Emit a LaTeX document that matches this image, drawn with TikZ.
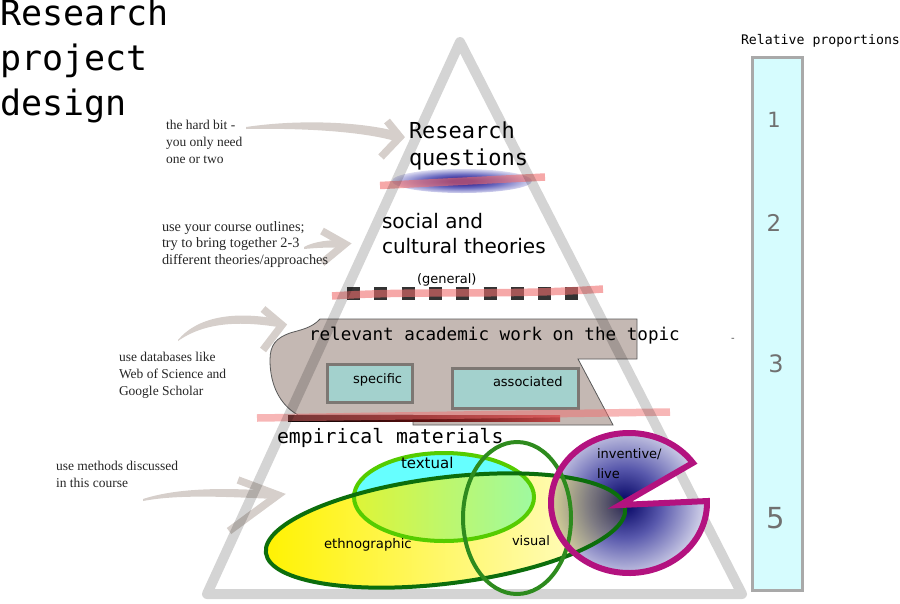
\documentclass[tikz,border=0pt]{standalone}
\usepackage{fontspec}
\setmainfont{Liberation Serif}
\setsansfont{DejaVu Sans}
\setmonofont{DejaVu Sans Mono}
\usetikzlibrary{fadings}
\definecolor{bandpink}{HTML}{F06E6E}
\definecolor{shapebrown}{HTML}{C4B8B3}
\definecolor{boxfill}{HTML}{A3D1CD}
\definecolor{boxedge}{HTML}{7D7773}
\definecolor{colfill}{HTML}{D6FCFE}
\definecolor{coledge}{HTML}{A9A9A9}
\definecolor{arrowcol}{HTML}{D6CFCB}
\definecolor{textcyan}{HTML}{66FFFF}
\definecolor{ethedge}{HTML}{0C6E0C}
\definecolor{txtedge}{HTML}{55CC00}
\definecolor{visedge}{HTML}{2E8B1E}
\definecolor{pacedge}{HTML}{B3127F}
\definecolor{pacin}{HTML}{10106E}
\definecolor{pacmid}{HTML}{5858AC}
\definecolor{paclight}{HTML}{C8C8E4}
\definecolor{pacout}{HTML}{F4F4FA}
\definecolor{glowin}{HTML}{2A1A8A}
\definecolor{glowmid}{HTML}{6A6AC0}
\definecolor{glowlight}{HTML}{D8D8F0}
\definecolor{barred}{HTML}{C04848}
\definecolor{bardark}{HTML}{5A0E0E}
\definecolor{numgray}{HTML}{707070}
\pgfdeclareradialshading{glowshade}{\pgfpoint{0bp}{0bp}}{color(0bp)=(glowin); color(4bp)=(glowin); color(14bp)=(glowmid); color(25bp)=(glowlight); color(34bp)=(white); color(50bp)=(white)}
\pgfdeclareradialshading{pacshade}{\pgfpoint{0bp}{0bp}}{color(0bp)=(pacin); color(2bp)=(pacin); color(11bp)=(pacmid); color(23bp)=(paclight); color(35bp)=(pacout); color(50bp)=(pacout)}
\tikzfading[name=ethfade, left color=transparent!0, right color=transparent!85]
\begin{document}
\begin{tikzpicture}[x=1pt,y=1pt,
  every node/.style={inner sep=0pt,outer sep=0pt},
  note/.style={font=\fontsize{13.5}{16.6}\selectfont\rmfamily, align=left, anchor=base west, text=black!85},
  monolabel/.style={font=\ttfamily, anchor=base west, align=left},
  sanslabel/.style={font=\sffamily, anchor=base west, align=left},
  numlabel/.style={font=\sffamily, text=numgray, anchor=base},
  brush/.style={fill=arrowcol},
  brushhead/.style={draw=arrowcol, line width=7.5, miter limit=10},
  band/.style={draw=bandpink, line width=7.5, draw opacity=0.6},
  sqline/.style={draw=black!80, line width=13, dash pattern=on 13 off 14.3},
  brownshape/.style={fill=shapebrown, draw=black!65, line width=0.8},
  boxstyle/.style={fill=boxfill, draw=boxedge, line width=3},
  colstyle/.style={fill=colfill, draw=coledge, line width=3},
  tri/.style={draw=black, draw opacity=0.17, line width=10, line join=round}
]
\useasboundingbox (0,0) rectangle (900,-603);

% proportions column
\draw[colstyle] (752,-57) rectangle (802,-590);

% brush arrows (tapered bodies, chevron heads)
\fill[brush] (246,-127) .. controls (300,-119) and (360,-122) .. (395,-131) -- (395,-141) .. controls (360,-131) and (300,-128) .. (246,-129) -- cycle;
\draw[brushhead] (387,-121) -- (400,-137) -- (381,-157);
\fill[brush] (304,-247) .. controls (315,-241) and (330,-240) .. (342,-240) -- (342,-248) .. controls (330,-247) and (315,-248) .. (304,-249) -- cycle;
\draw[brushhead] (322,-231) -- (345,-244) -- (322,-263);
\fill[brush] (178,-340) .. controls (200,-314) and (240,-312) .. (278,-319) -- (278,-327) .. controls (240,-321) and (205,-322) .. (178,-341) -- cycle;
\draw[brushhead] (263,-309) -- (282,-325) -- (263,-350);
\fill[brush] (143,-499) .. controls (180,-487) and (230,-488) .. (275,-491) -- (275,-499) .. controls (230,-497) and (180,-494) .. (143,-501) -- cycle;
\draw[brushhead] (238,-480) -- (278,-495) -- (229,-531);

% research questions glow and band
\shade[shading=glowshade] (462,-181) ellipse (70 and 12);
\draw[band] (380,-185.5) -- (545,-177);

% general dashed line and band
\draw[sqline] (347,-293.5) -- (578,-293.5);
\draw[band] (332,-296) .. controls (420,-290) and (500,-296) .. (603,-289);

% academic work shape
\draw[brownshape] (320,-319) -- (637,-319) -- (637,-359) -- (578,-359) -- (613,-425) -- (413,-425) -- (413,-415) -- (298,-415)
  .. controls (280,-405) and (270,-385) .. (270,-360)
  .. controls (270,-345) and (276,-338) .. (290,-333)
  .. controls (300,-330) and (312,-328) .. (320,-319) -- cycle;
\draw[boxstyle] (327,-364) rectangle (412,-402);
\draw[boxstyle] (452,-368) rectangle (578,-408);
\shade[left color=black, right color=barred, middle color=bardark] (288,-415) rectangle (560,-421);
\draw[band, draw opacity=0.5] (257,-418) -- (670,-412);

% triangle
\draw[tri] (460,-42) -- (742,-594) -- (207,-594) -- cycle;

% Venn diagram
\fill[textcyan] (444,-497) ellipse (90 and 44);
\shade[shading=pacshade] (620,-505) -- (692.9,-462.85) arc[start angle=35, end angle=361.6, x radius=78, y radius=70] -- cycle;
\fill[yellow, path fading=ethfade, rotate around={7.1:(445.5,-530.5)}] (445.5,-530.5) ellipse (181 and 53);
\draw[txtedge, line width=4] (444,-497) ellipse (90 and 44);
\draw[ethedge, line width=4, rotate around={7.1:(445.5,-530.5)}] (445.5,-530.5) ellipse (181 and 53);
\draw[visedge, line width=4] (517,-518) ellipse (54 and 76);
\draw[pacedge, line width=6, line join=miter] (620,-505) -- (692.9,-462.85) arc[start angle=35, end angle=361.6, x radius=78, y radius=70] -- cycle;

% texts (base anchor = baseline of last line)
\node[monolabel, font=\fontsize{35}{45}\selectfont\ttfamily] (title) at (0,-115) {Research\\project\\design};
\node[note] (n1) at (166,-163) {the hard bit -\\you only need\\one or two};
\node[note, font=\fontsize{14.3}{16.3}\selectfont\rmfamily] (n2) at (162,-264) {use your course outlines;\\try to bring together 2-3\\different theories/approaches};
\node[note] (n3) at (119,-395) {use databases like\\Web of Science and\\Google Scholar};
\node[note] (n4) at (56,-487) {use methods discussed\\in this course};

\node[monolabel, font=\fontsize{22}{27}\selectfont\ttfamily] (rq) at (409,-165) {Research\\questions};
\node[sanslabel, font=\fontsize{20}{25}\selectfont\sffamily] (theo) at (382,-253) {social and\\cultural theories};
\node[sanslabel, font=\fontsize{13}{16}\selectfont\sffamily] (gen) at (417,-283) {(general)};
\node[monolabel, font=\fontsize{17.6}{20}\selectfont\ttfamily] (acad) at (309,-340) {relevant academic work on the topic};
\node[sanslabel, font=\fontsize{13}{16}\selectfont\sffamily] (spec) at (353,-383) {specific};
\node[sanslabel, font=\fontsize{13}{16}\selectfont\sffamily] (assoc) at (493,-386) {associated};
\node[monolabel, font=\fontsize{19.8}{24}\selectfont\ttfamily] (emp) at (277,-443) {empirical materials};
\node[sanslabel, font=\fontsize{15}{18}\selectfont\sffamily] (txt) at (401,-468) {textual};
\node[sanslabel, font=\fontsize{13.2}{16}\selectfont\sffamily] (eth) at (324,-548) {ethnographic};
\node[sanslabel, font=\fontsize{13}{16}\selectfont\sffamily] (vis) at (512,-545) {visual};
\node[sanslabel, font=\fontsize{13}{20}\selectfont\sffamily] (inv) at (597,-478) {inventive/\\live};

\node[monolabel, font=\fontsize{13.2}{16}\selectfont\ttfamily] (rel) at (741,-44) {Relative proportions};
\node[numlabel, font=\fontsize{21}{24}\selectfont\sffamily] (p1) at (774,-127) {1};
\node[numlabel, font=\fontsize{23}{26}\selectfont\sffamily] (p2) at (774,-231) {2};
\node[numlabel, font=\fontsize{24}{27}\selectfont\sffamily] (p3) at (776,-372) {3};
\node[numlabel, font=\fontsize{29}{32}\selectfont\sffamily] (p5) at (776,-528) {5};
\node[font=\fontsize{10}{12}\selectfont\sffamily, text=black!70] (dash) at (733,-340) {-};
\end{tikzpicture}
\end{document}
